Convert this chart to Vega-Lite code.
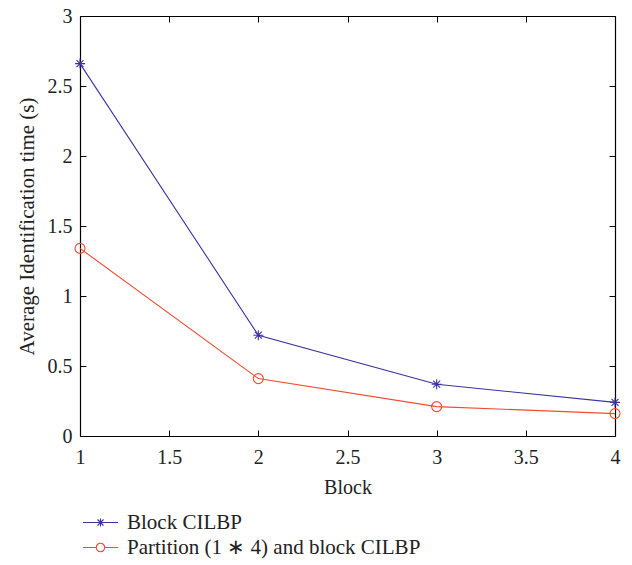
{
  "$schema": "https://vega.github.io/schema/vega-lite/v6.json",
  "autosize": "none",
  "width": 535,
  "height": 420,
  "padding": {"left": 80, "top": 16, "right": 17, "bottom": 129},
  "background": "white",
  "config": {
    "font": "Liberation Serif",
    "view": {"stroke": null},
    "axis": {"labelFont": "Liberation Serif", "titleFont": "Liberation Serif", "labelFontSize": 20, "titleFontSize": 21, "titleFontWeight": "normal", "labelColor": "#222", "titleColor": "#222", "domainColor": "#000", "tickColor": "#000", "grid": false, "domainWidth": 1.2, "tickWidth": 1, "labelFlush": false},
    "legend": {"orient": "none", "legendX": 10, "legendY": 496, "title": null, "labelFontSize": 21, "labelFont": "Liberation Serif", "labelColor": "#222", "labelOffset": 16, "labelLimit": 500, "symbolSize": 100, "rowPadding": 3, "padding": 0}
  },
  "data": {"values": [
    {"block": 1, "time": 2.66, "series": "Block CILBP"},
    {"block": 2, "time": 0.72, "series": "Block CILBP"},
    {"block": 3, "time": 0.37, "series": "Block CILBP"},
    {"block": 4, "time": 0.24, "series": "Block CILBP"},
    {"block": 1, "time": 1.34, "series": "Partition (1 ∗ 4) and block CILBP"},
    {"block": 2, "time": 0.41, "series": "Partition (1 ∗ 4) and block CILBP"},
    {"block": 3, "time": 0.21, "series": "Partition (1 ∗ 4) and block CILBP"},
    {"block": 4, "time": 0.16, "series": "Partition (1 ∗ 4) and block CILBP"}
  ]},
  "resolve": {"axis": {"x": "independent", "y": "independent"}},
  "layer": [
    {
      "mark": {"type": "line", "strokeWidth": 1.1},
      "encoding": {
        "x": {"field": "block", "type": "quantitative", "scale": {"domain": [1, 4], "nice": false, "zero": false},
          "axis": {"orient": "bottom", "title": "Block", "values": [1, 1.5, 2, 2.5, 3, 3.5, 4], "format": "~g", "tickSize": -6, "labelPadding": 17, "titlePadding": 10, "titleFontSize": 20}},
        "y": {"field": "time", "type": "quantitative", "scale": {"domain": [0, 3], "nice": false},
          "axis": {"orient": "left", "title": "Average Identification time (s)", "values": [0, 0.5, 1, 1.5, 2, 2.5, 3], "format": "~g", "tickSize": -6, "labelPadding": 14, "titlePadding": 10}},
        "color": {"field": "series", "type": "nominal",
          "scale": {"domain": ["Block CILBP", "Partition (1 ∗ 4) and block CILBP"], "range": ["#3a33a0", "#f24a2e"]},
          "legend": {
            "encode": {"symbols": {"update": {
              "shape": {"signal": "datum.value === 'Block CILBP' ? 'M-3.5,0H3.5M0,-0.8V0.8M-0.8,0H0.8M-0.6,-0.6L0.6,0.6M-0.6,0.6L0.6,-0.6' : 'M-3.5,0H-0.85M0.85,0H3.5M-0.85,0A0.85,0.85 0 1,0 0.85,0A0.85,0.85 0 1,0 -0.85,0'"},
              "size": {"value": 100},
              "fill": {"value": "transparent"},
              "strokeWidth": {"value": 1.1}
            }}}}}
      }
    },
    {
      "transform": [{"filter": "datum.series === 'Block CILBP'"}],
      "mark": {"type": "point", "filled": false, "size": 100, "strokeWidth": 1.1, "opacity": 1, "shape": "M0,-1V1M-1,0H1M-0.7,-0.7L0.7,0.7M-0.7,0.7L0.7,-0.7"},
      "encoding": {
        "x": {"field": "block", "type": "quantitative", "axis": {"orient": "top", "title": null, "labels": false, "values": [1, 1.5, 2, 2.5, 3, 3.5, 4], "tickSize": -6}},
        "y": {"field": "time", "type": "quantitative", "axis": {"orient": "right", "title": null, "labels": false, "values": [0, 0.5, 1, 1.5, 2, 2.5, 3], "tickSize": -6}},
        "color": {"field": "series", "type": "nominal"}
      }
    },
    {
      "transform": [{"filter": "datum.series !== 'Block CILBP'"}],
      "mark": {"type": "point", "filled": false, "size": 100, "strokeWidth": 1.1, "opacity": 1, "shape": "circle"},
      "encoding": {
        "x": {"field": "block", "type": "quantitative", "axis": null},
        "y": {"field": "time", "type": "quantitative", "axis": null},
        "color": {"field": "series", "type": "nominal"}
      }
    }
  ]
}
